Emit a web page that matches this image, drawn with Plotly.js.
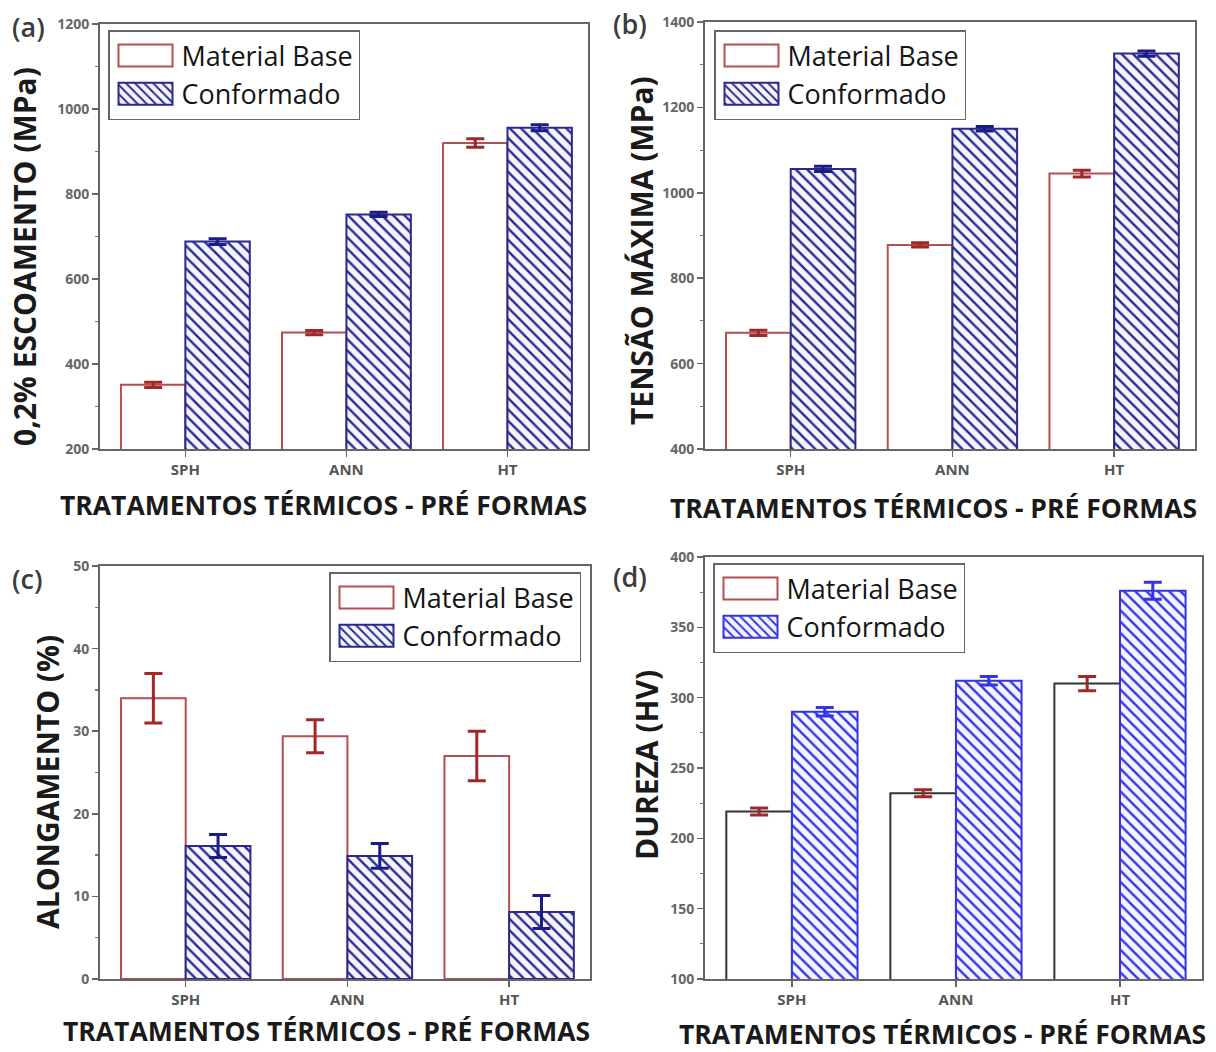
<!DOCTYPE html>
<html><head><meta charset="utf-8">
<script src="https://cdn.plot.ly/plotly-3.0.1.min.js"></script>
<style>body{margin:0;background:#fff}</style>
</head><body>
<div id="chart" style="width:1216px;height:1052px"></div>
<script>
// ---------- data ----------
const categories = ['SPH', 'ANN', 'HT'];
const seriesNames = ['Material Base', 'Conformado'];
const xTitle = 'TRATAMENTOS TÉRMICOS - PRÉ FORMAS';

// (a) 0,2% escoamento (MPa)
const yieldBase = [351, 474, 920];
const yieldBaseErr = [6, 5, 10];
const yieldForm = [688, 752, 956];
const yieldFormErr = [7, 5, 7];
// (b) tensão máxima (MPa)
const utsBase = [672, 878, 1045];
const utsBaseErr = [6, 5, 8];
const utsForm = [1056, 1150, 1326];
const utsFormErr = [6, 5, 6];
// (c) alongamento (%)
const elongBase = [34, 29.4, 27];
const elongBaseErr = [3, 2, 3];
const elongForm = [16.1, 14.9, 8.1];
const elongFormErr = [1.4, 1.5, 2];
// (d) dureza (HV)
const hardBase = [219, 232, 310];
const hardBaseErr = [2.5, 2.5, 5];
const hardForm = [290, 312, 376];
const hardFormErr = [3, 3, 6];

// ---------- styles ----------
const RED = '#b35050', RED_ERR = '#a02828';
const NAVY = '#2a2a8e', NAVY_ERR = '#1c1c88';
const BLUE = '#3434e6';

const panels = [
  {id: '', base: yieldBase, baseErr: yieldBaseErr, form: yieldForm, formErr: yieldFormErr,
   baseLine: RED, formCol: NAVY, formErrCol: NAVY_ERR},
  {id: '2', base: utsBase, baseErr: utsBaseErr, form: utsForm, formErr: utsFormErr,
   baseLine: RED, formCol: NAVY, formErrCol: NAVY_ERR},
  {id: '3', base: elongBase, baseErr: elongBaseErr, form: elongForm, formErr: elongFormErr,
   baseLine: RED, formCol: NAVY, formErrCol: NAVY_ERR},
  {id: '4', base: hardBase, baseErr: hardBaseErr, form: hardForm, formErr: hardFormErr,
   baseLine: '#333333', formCol: BLUE, formErrCol: BLUE}
];

const traces = [];
panels.forEach(p => {
  const xa = 'x' + p.id, ya = 'y' + p.id, lg = 'legend' + p.id;
  traces.push({
    type: 'bar', name: seriesNames[0], x: categories, y: p.base,
    xaxis: xa, yaxis: ya, legend: lg,
    marker: {color: 'white', line: {color: p.baseLine, width: 2}},
    error_y: {type: 'data', array: p.baseErr, visible: true, color: RED_ERR, thickness: 3, width: 9}
  });
  traces.push({
    type: 'bar', name: seriesNames[1], x: categories, y: p.form,
    xaxis: xa, yaxis: ya, legend: lg,
    marker: {color: 'white', line: {color: p.formCol, width: 2},
             pattern: {shape: '\\', fgcolor: p.formCol, bgcolor: '#f4f4ff', size: 8, solidity: 0.3}},
    error_y: {type: 'data', array: p.formErr, visible: true, color: p.formErrCol, thickness: 3, width: 9}
  });
});

const W = 1216, H = 1052;
const px = v => v / W, py = v => 1 - v / H;

function xaxis(id, l, r) {
  return {domain: [px(l), px(r)], range: [-0.53, 2.5], type: 'category', anchor: 'y' + id,
    showline: true, mirror: true, linecolor: '#666', linewidth: 2,
    ticks: 'outside', ticklen: 6, tickwidth: 1.5, tickcolor: '#666',
    tickfont: {family: 'Open Sans', size: 15, color: '#555', weight: 'bold'},
    showgrid: false, zeroline: false, fixedrange: true};
}
function yaxis(id, t, b, rng, dt, mdt) {
  return {domain: [py(b), py(t)], range: rng, dtick: dt, tick0: rng[0], anchor: 'x' + id,
    showline: true, mirror: true, linecolor: '#666', linewidth: 2,
    ticks: 'outside', ticklen: 6, tickwidth: 1.5, tickcolor: '#666',
    minor: {dtick: mdt, ticks: 'outside', ticklen: 3, tickcolor: '#777', tickwidth: 1.2, showgrid: false},
    tickfont: {family: 'Open Sans', size: 14, color: '#666', weight: 'bold'},
    showgrid: false, zeroline: false, fixedrange: true};
}
function legend(x, y, xanchor) {
  return {x: px(x), y: py(y), xanchor: xanchor, yanchor: 'top', xref: 'paper', yref: 'paper',
    bgcolor: 'white', bordercolor: '#666', borderwidth: 1.5, itemwidth: 62,
    font: {family: 'Open Sans', size: 27, color: '#151515'}, tracegroupgap: 0};
}

const titleFont = {family: 'Open Sans', size: 26.5, color: '#1a1a1a', weight: 'bold'};
const yTitleFont = {family: 'Open Sans', size: 30, color: '#1a1a1a', weight: 'bold'};
const labFont = {family: 'Open Sans', size: 27, color: '#3c3c3c', weight: 600};
function ann(text, x, y, font, angle) {
  return {text: text, x: px(x), y: py(y), xref: 'paper', yref: 'paper', showarrow: false,
    xanchor: 'center', yanchor: 'middle', font: font, textangle: angle || 0};
}

const layout = {
  width: W, height: H, margin: {l: 0, r: 0, t: 0, b: 0},
  paper_bgcolor: 'white', plot_bgcolor: 'white',
  barmode: 'group', bargap: 0.2, bargroupgap: 0,
  xaxis: xaxis('', 100, 588), yaxis: yaxis('', 24, 449, [200, 1200], 200, 100),
  xaxis2: xaxis('2', 705, 1195), yaxis2: yaxis('2', 22, 449, [400, 1400], 200, 100),
  xaxis3: xaxis('3', 100, 590), yaxis3: yaxis('3', 566, 979, [0, 50], 10, 5),
  xaxis4: xaxis('4', 705, 1202), yaxis4: yaxis('4', 557, 979, [100, 400], 50, 25),
  legend: legend(108, 30, 'left'),
  legend2: legend(714, 30, 'left'),
  legend3: legend(581, 572, 'right'),
  legend4: legend(713, 563, 'left'),
  annotations: [
    ann('(a)', 28, 26, labFont), ann('(b)', 630, 24, labFont),
    ann('(c)', 27, 578, labFont), ann('(d)', 630, 576, labFont),
    ann(xTitle, 323, 505, titleFont), ann(xTitle, 933, 508, titleFont),
    ann(xTitle, 326, 1031, titleFont), ann(xTitle, 942, 1034, titleFont),
    ann('0,2% ESCOAMENTO (MPa)', 24, 257, yTitleFont, -90),
    ann('TENSÃO MÁXIMA (MPa)', 641, 251, yTitleFont, -90),
    ann('ALONGAMENTO (%)', 47, 782, yTitleFont, -90),
    ann('DUREZA (HV)', 646, 765, yTitleFont, -90)
  ]
};

const gd = document.getElementById('chart');
function fixLegend() {
  // enlarge legend swatches to wide rectangles like the original figure
  gd.querySelectorAll('g.legendpoints path').forEach(p => {
    p.setAttribute('d', 'M27,11H-27V-11H27Z');
  });
  // panel (d): Material Base swatch drawn with a red outline in the original legend
  const l4 = gd.querySelector('g.legend4');
  if (l4) {
    const first = l4.querySelector('g.traces g.legendpoints path');
    if (first) first.style.stroke = RED;
  }
}
Plotly.newPlot(gd, traces, layout, {displayModeBar: false, staticPlot: true}).then(() => {
  fixLegend();
  setTimeout(fixLegend, 50);
});
</script>
</body></html>
